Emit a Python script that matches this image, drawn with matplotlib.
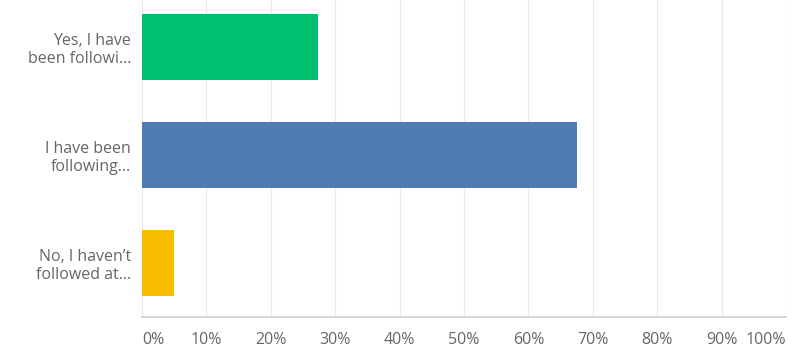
import matplotlib
matplotlib.use("Agg")
import matplotlib.pyplot as plt

# Survey answers and share of respondents (%)
categories = ["Yes, I have\nbeen followi...", "I have been\nfollowing...", "No, I haven\u2019t\nfollowed at..."]
values = [27.4, 67.6, 4.9]
colors = ["#00BF6F", "#507CB6", "#F9BE00"]
tick_values = list(range(0, 101, 10))
tick_labels = [f"{v}%" for v in tick_values]

plt.rcParams["font.family"] = ["Open Sans", "DejaVu Sans"]
text_color = "#666666"

fig = plt.figure(figsize=(8, 3.6), dpi=100)
ax = fig.add_axes([142 / 800, 43 / 360, 644 / 800, 317 / 360])

ypos = list(range(len(categories)))
ax.barh(ypos, values, height=0.62, color=colors, zorder=3)

ax.set_xlim(0, 100)
ax.set_ylim(2.5, -0.435)

ax.set_xticks(tick_values)
ax.set_xticklabels(tick_labels, fontsize=11.5, color=text_color)
labels = ax.get_xticklabels()
labels[0].set_ha("left")
labels[-1].set_ha("right")
ax.tick_params(axis="x", length=0, pad=11)

ax.set_yticks(ypos)
ax.set_yticklabels(categories, fontsize=11.5, color=text_color, linespacing=1.2)
ax.tick_params(axis="y", length=0, pad=8)

ax.grid(axis="x", color="#ebebeb", linewidth=1, zorder=0)
for side in ["top", "right", "left"]:
    ax.spines[side].set_visible(False)
ax.spines["bottom"].set_color("#d0d0d0")
ax.spines["bottom"].set_linewidth(1.2)

fig.savefig("out.png", dpi=100, facecolor="white")
